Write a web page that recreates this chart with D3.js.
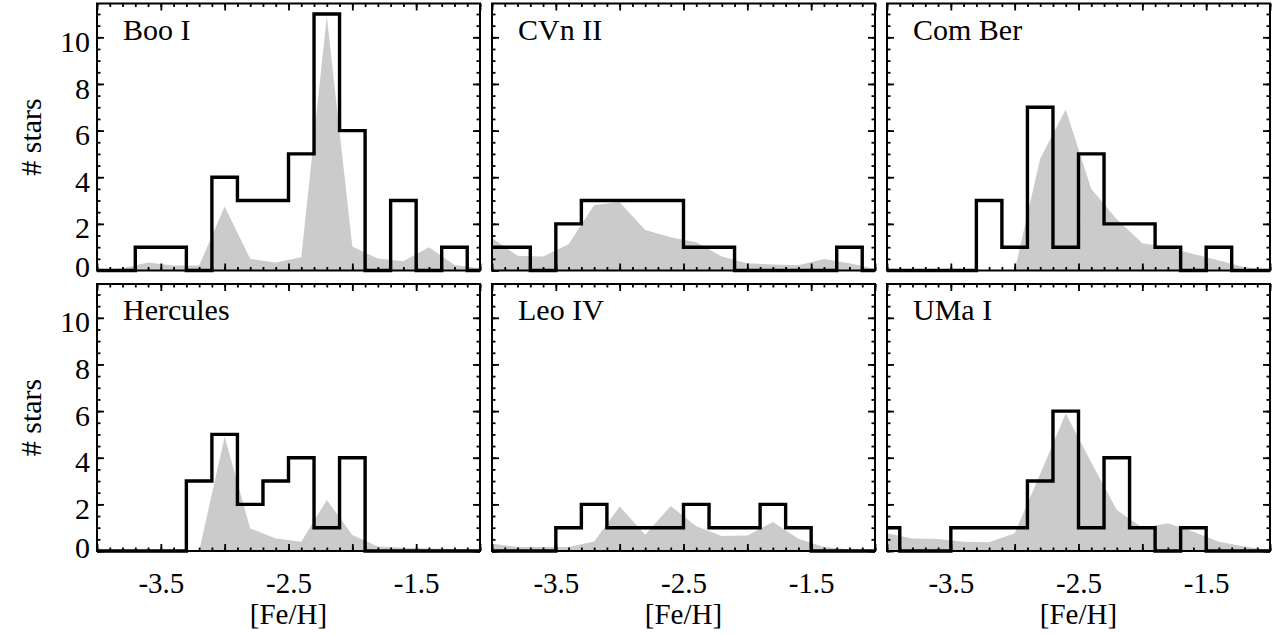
<!DOCTYPE html>
<html><head><meta charset="utf-8">
<script src="https://cdn.jsdelivr.net/npm/d3@7"></script>
<style>
body{margin:0;background:#fff}
svg{display:block}
svg text{font-family:"Liberation Serif","DejaVu Serif",serif !important;fill:#000}
</style>
</head><body>
<svg id="chart" width="1279" height="635" font-family="Liberation Serif, DejaVu Serif, serif"></svg>
<script>
// ---- data ----
const galaxyNames = ["Boo I", "CVn II", "Com Ber", "Hercules", "Leo IV", "UMa I"];
// left edges of 0.2-dex histogram bins
const binLefts = [-4.1, -3.9, -3.7, -3.5, -3.3, -3.1, -2.9, -2.7, -2.5, -2.3, -2.1, -1.9, -1.7, -1.5, -1.3, -1.1];
const booHist    = [0, 0, 1, 1, 0, 4, 3, 3, 5, 11, 6, 0, 3, 0, 1, 0];
const cvnHist    = [1, 1, 0, 2, 3, 3, 3, 3, 1, 1, 0, 0, 0, 0, 1, 0];
const comHist    = [0, 0, 0, 0, 3, 1, 7, 1, 5, 2, 2, 1, 0, 1, 0, 0];
const herHist    = [0, 0, 0, 0, 3, 5, 2, 3, 4, 1, 4, 0, 0, 0, 0, 0];
const leoHist    = [0, 0, 0, 1, 2, 1, 1, 1, 2, 1, 1, 2, 1, 0, 0, 0];
const umaHist    = [1, 0, 0, 1, 1, 1, 3, 6, 1, 4, 1, 0, 1, 0, 0, 0];
// grey (smoothed) distributions
const greyX = [-4.0, -3.8, -3.6, -3.4, -3.2, -3.0, -2.8, -2.6, -2.4, -2.2, -2.0, -1.8, -1.6, -1.4, -1.2, -1.0];
const booGrey = [0, 0.1, 0.34, 0.21, 0.21, 2.74, 0.5, 0.34, 0.57, 10.9, 1.03, 0.51, 0.4, 1.0, 0.24, 0.1];
const cvnGrey = [1.39, 0.63, 0.6, 1.13, 2.81, 2.93, 1.74, 1.43, 1.21, 0.6, 0.31, 0.26, 0.23, 0.49, 0.31, 0.06];
const comGrey = [0, 0, 0, 0, 0, 0, 4.8, 6.9, 3.5, 2.2, 1.17, 1.0, 0.71, 0.43, 0.14, 0.03];
const herGrey = [0, 0, 0, 0, 0, 4.9, 0.97, 0.54, 0.4, 2.19, 0.69, 0.19, 0.14, 0.11, 0.09, 0.03];
const leoGrey = [0.31, 0.17, 0.17, 0.17, 0.41, 1.91, 0.7, 1.93, 1.06, 0.64, 0.67, 1.24, 0.53, 0.17, 0.07, 0.03];
const umaGrey = [0.76, 0.54, 0.51, 0.4, 0.37, 0.76, 3.3, 5.9, 3.8, 1.76, 1.0, 1.19, 0.83, 0.4, 0.19, 0.03];
const xTickLabels = [-3.5, -2.5, -1.5];
const yTickLabels = [0, 2, 4, 6, 8, 10];
const xAxisTitle = "[Fe/H]";
const yAxisTitle = "# stars";

const hists = [booHist, cvnHist, comHist, herHist, leoHist, umaHist];
const greys = [booGrey, cvnGrey, comGrey, herGrey, leoGrey, umaGrey];

// ---- layout ----
const FONT = "Liberation Serif, DejaVu Serif, serif";
const panelLeft = [97, 492, 887];
const rowTop = [3.5, 284];
const W = 383, H = 267;
const FS = 30;

const x = d3.scaleLinear().domain([-4, -1]).range([0, W]);
const y = d3.scaleLinear().domain([0, 11.45]).range([H, 0]);

const xMinor = d3.range(-40, -9, 1).map(d => d / 10);
const xMajor = d3.range(-8, -1, 1).map(d => d / 2);
const yMinor = d3.range(0, 23, 1).map(d => d / 2);
const yMajor = d3.range(0, 12, 2);

const svg = d3.select("#chart");
const defs = svg.append("defs");

const line = d3.line().x(d => x(d[0])).y(d => y(d[1])).curve(d3.curveStepAfter);
const area = d3.area().x(d => x(d[0])).y0(y(0)).y1(d => y(d[1])).curve(d3.curveLinear);

function ticks(g, axis) {
  g.call(axis);
  g.select(".domain").remove();
  g.selectAll(".tick line").attr("stroke", "#000").attr("stroke-width", 1.8);
}

galaxyNames.forEach((name, i) => {
  const r = Math.floor(i / 3), c = i % 3;
  const g = svg.append("g").attr("transform", `translate(${panelLeft[c]},${rowTop[r]})`);

  const cid = "clip" + i;
  defs.append("clipPath").attr("id", cid)
    .append("rect").attr("x", 0).attr("y", -3).attr("width", W).attr("height", H + 6);

  // grey area
  g.append("path")
    .datum(greyX.map((v, k) => [v, greys[i][k]]))
    .attr("d", area)
    .attr("fill", "#cbcbcb")
    .attr("clip-path", `url(#${cid})`);

  // histogram
  const pts = binLefts.map((v, k) => [v, hists[i][k]]);
  pts.push([binLefts[binLefts.length - 1] + 0.2, hists[i][hists[i].length - 1]]);
  g.append("path")
    .datum(pts)
    .attr("d", line)
    .attr("fill", "none")
    .attr("stroke", "#000")
    .attr("stroke-width", 3.4)
    .attr("stroke-linejoin", "miter")
    .attr("clip-path", `url(#${cid})`);

  // ticks (inward, all four sides)
  const bot = g.append("g").attr("transform", `translate(0,${H})`);
  ticks(bot.append("g"), d3.axisBottom(x).tickValues(xMinor).tickSize(-3.5).tickFormat(""));
  ticks(bot.append("g"), d3.axisBottom(x).tickValues(xMajor).tickSize(-7).tickFormat(""));
  const top = g.append("g");
  ticks(top.append("g"), d3.axisTop(x).tickValues(xMinor).tickSize(-3.5).tickFormat(""));
  ticks(top.append("g"), d3.axisTop(x).tickValues(xMajor).tickSize(-7).tickFormat(""));
  const lef = g.append("g");
  ticks(lef.append("g"), d3.axisLeft(y).tickValues(yMinor).tickSize(-3.5).tickFormat(""));
  ticks(lef.append("g"), d3.axisLeft(y).tickValues(yMajor).tickSize(-7).tickFormat(""));
  const rig = g.append("g").attr("transform", `translate(${W},0)`);
  ticks(rig.append("g"), d3.axisRight(y).tickValues(yMinor).tickSize(-3.5).tickFormat(""));
  ticks(rig.append("g"), d3.axisRight(y).tickValues(yMajor).tickSize(-7).tickFormat(""));

  // frame
  g.append("rect").attr("x", 0).attr("y", 0).attr("width", W).attr("height", H)
    .attr("fill", "none").attr("stroke", "#000").attr("stroke-width", 2);

  // panel name
  g.append("text").attr("x", 26).attr("y", 36)
    .attr("font-family", FONT).attr("font-size", FS).text(name);

  // y tick labels
  if (c === 0) {
    const yl = g.append("g").call(d3.axisLeft(y).tickValues(yTickLabels).tickSize(0).tickPadding(7).tickFormat(d3.format("d")));
    yl.attr("font-family", FONT);
    yl.select(".domain").remove();
    yl.selectAll("text")
      .attr("font-size", FS).attr("font-family", FONT)
      .attr("dy", d => d === 0 ? "0.2em" : "0.47em");
    g.append("text")
      .attr("transform", `translate(-56,${H / 2}) rotate(-90)`)
      .attr("text-anchor", "middle")
      .attr("font-family", FONT)
      .attr("font-size", FS)
      .text(yAxisTitle);
  }
  // x tick labels
  if (r === 1) {
    const xl = g.append("g").attr("transform", `translate(0,${H})`)
      .call(d3.axisBottom(x).tickValues(xTickLabels).tickSize(0).tickPadding(21).tickFormat(d3.format(".1f")));
    xl.attr("font-family", FONT);
    xl.select(".domain").remove();
    xl.selectAll("text").attr("font-size", 29).attr("font-family", FONT)
      .text(d => d3.format(".1f")(d).replace("−", "-"));
    g.append("text")
      .attr("x", W / 2).attr("y", H + 73)
      .attr("text-anchor", "middle")
      .attr("font-family", FONT)
      .attr("font-size", 29)
      .text(xAxisTitle);
  }
});
</script>
</body></html>
